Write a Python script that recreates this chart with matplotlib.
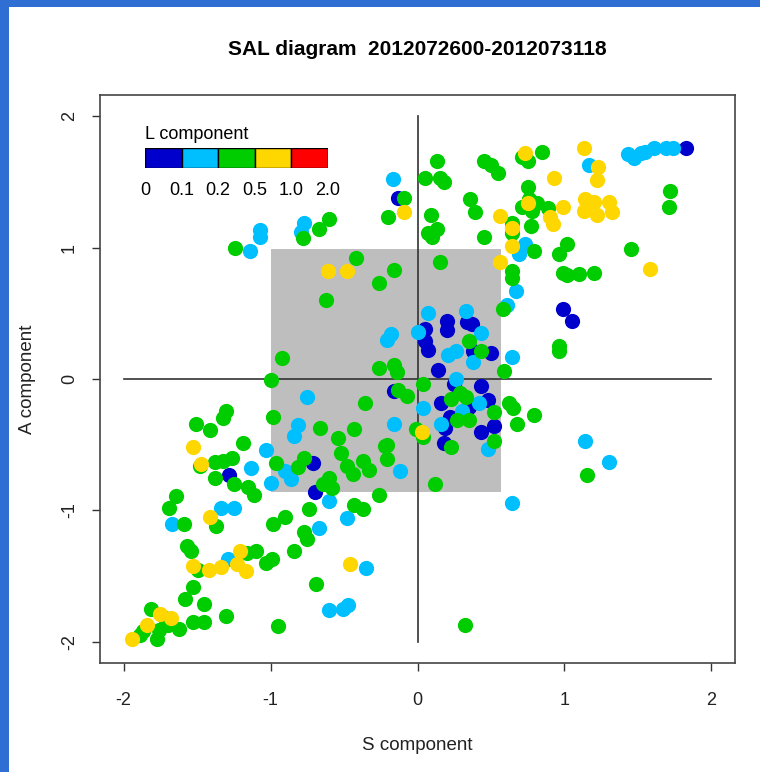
import matplotlib
matplotlib.use("Agg")
import matplotlib.pyplot as plt
from matplotlib.patches import Rectangle

plt.rcParams['font.family'] = ['Liberation Sans', 'DejaVu Sans']

# L component classes and their colours (legend order).
l_bounds = ["0", "0.1", "0.2", "0.5", "1.0", "2.0"]
l_colors = ["#0000CD", "#00BFFF", "#00CD00", "#FFD700", "#FF0000"]

# S and A components, one pair of lists per L class.
s_dark = [1.83, -0.13, 0.99, 1.05, 0.20, 0.20, 0.34, 0.37, 0.05, 0.05, 0.07, 0.38, 0.50, 0.14,
          0.25, 0.43, -0.16, 0.16, 0.35, 0.48, 0.19, 0.43, 0.52, 0.18, -0.71, -0.70, -1.28, 0.22]
a_dark = [1.76, 1.38, 0.53, 0.44, 0.44, 0.37, 0.43, 0.42, 0.38, 0.29, 0.22, 0.21, 0.20, 0.07,
          -0.04, -0.05, -0.09, -0.18, -0.21, -0.16, -0.37, -0.40, -0.36, -0.49, -0.64, -0.86, -0.73, -0.29]

s_light = [1.43, 1.47, 1.52, 1.55, 1.61, 1.69, 1.74, 1.17, -0.17, -1.07, -1.07, -1.14, -0.79, -0.77,
           0.73, 0.69, 0.67, 0.61, 0.64, 0.07, 0.33, 0.00, -0.21, -0.18, 0.43, 0.21, 0.26, 0.38,
           0.26, 0.42, 0.04, 0.30, -0.16, 0.16, 0.48, -0.12, -0.75, -0.81, -0.84, -1.03, -1.13,
           -0.90, -0.86, -1.00, -0.60, -0.48, -0.67, -1.34, -1.25, -1.67, -1.29, -0.35, -0.60,
           -0.51, -0.47, 1.14, 1.30, 0.64]
a_light = [1.71, 1.68, 1.72, 1.73, 1.76, 1.76, 1.76, 1.63, 1.52, 1.13, 1.08, 0.97, 1.12, 1.19,
           1.03, 0.95, 0.67, 0.56, 0.17, 0.50, 0.52, 0.36, 0.30, 0.34, 0.35, 0.18, 0.21, 0.13,
           0.00, -0.18, -0.22, -0.24, -0.34, -0.34, -0.53, -0.70, -0.14, -0.35, -0.43, -0.54, -0.68,
           -0.70, -0.76, -0.79, -0.93, -1.06, -1.13, -0.98, -0.98, -1.10, -1.37, -1.44, -1.76,
           -1.75, -1.72, -0.47, -0.63, -0.94]

s_green = [0.13, 0.05, 0.15, 0.18, -0.09, -0.20, 0.36, 0.39, 0.09, 0.07, 0.13, 0.10, 0.45, 0.45,
           0.50, 0.55, 0.71, 0.75, 0.85, 0.75, 0.71, 0.78, 0.81, 0.76, 0.89, 0.64, 0.64, 0.77,
           1.72, 1.71, 0.79, 1.02, 0.96, 1.45, 0.15, 0.64, 0.64, 0.99, 1.02, 1.10, 1.20, 0.58,
           0.96, 0.96, 0.59, 0.62, 0.65, 0.79, 0.68, 1.15, 0.12, 0.32, 0.52, 0.52, 0.35, 0.43,
           0.04, -0.13, -0.07, 0.23, 0.29, 0.33, 0.27, 0.35, -0.01, 0.04, 0.23, -0.21, -0.21,
           -0.16, -0.26, -0.14, -0.36, -0.43, -0.66, -0.54, -0.22, -0.52, -0.37, -0.77, -0.81,
           -0.96, -0.48, -0.44, -0.33, -0.60, -0.64, -0.58, -1.15, -1.11, -0.26, -0.74, -0.43,
           -0.37, -0.98, -0.90, -0.77, -0.75, -0.92, -1.00, -0.98, -0.26, -0.62, -0.42, -0.16,
           -1.24, -0.78, -0.67, -0.60, -1.30, -1.32, -1.51, -1.41, -1.19, -1.48, -1.38, -1.32,
           -1.26, -1.38, -1.25, -1.64, -1.69, -1.37, -1.59, -1.57, -1.54, -1.10, -1.16, -0.99,
           -1.03, -0.84, -1.49, -1.53, -0.69, -1.58, -1.45, -1.30, -0.95, -1.81, -1.72, -1.70,
           -1.53, -1.45, -1.62, -1.76, -1.87, -1.89, -1.77]
a_green = [1.66, 1.53, 1.53, 1.50, 1.38, 1.23, 1.37, 1.27, 1.25, 1.11, 1.14, 1.08, 1.08, 1.66,
           1.63, 1.57, 1.69, 1.66, 1.73, 1.46, 1.31, 1.28, 1.34, 1.37, 1.30, 1.19, 1.11, 1.16,
           1.43, 1.31, 0.97, 1.03, 0.95, 0.99, 0.89, 0.82, 0.77, 0.81, 0.79, 0.80, 0.81, 0.53,
           0.25, 0.21, 0.06, -0.18, -0.22, -0.27, -0.34, -0.73, -0.80, -1.87, -0.25, -0.47, 0.29, 0.21,
           -0.04, -0.08, -0.13, -0.15, -0.11, -0.14, -0.31, -0.31, -0.38, -0.44, -0.52, -0.50, -0.61,
           0.11, 0.08, 0.05, -0.18, -0.38, -0.37, -0.45, -0.51, -0.56, -0.62, -0.60, -0.67,
           -0.64, -0.66, -0.72, -0.69, -0.75, -0.80, -0.83, -0.82, -0.88, -0.88, -0.99, -0.96,
           -0.99, -1.10, -1.05, -1.16, -1.22, 0.16, -0.01, -0.29, 0.73, 0.60, 0.92, 0.83,
           1.00, 1.07, 1.14, 1.22, -0.24, -0.30, -0.34, -0.39, -0.49, -0.66, -0.63, -0.62,
           -0.60, -0.75, -0.80, -0.89, -0.98, -1.12, -1.10, -1.27, -1.31, -1.31, -1.32, -1.37,
           -1.40, -1.31, -1.45, -1.58, -1.56, -1.67, -1.71, -1.80, -1.88, -1.75, -1.82, -1.87,
           -1.85, -1.85, -1.90, -1.91, -1.92, -1.95, -1.98]

s_yellow = [-0.09, 0.73, 1.13, 1.23, 0.93, 1.22, 0.75, 0.90, 0.92, 0.99, 0.56, 0.64, 1.14, 1.20,
            1.30, 1.13, 1.22, 1.32, 0.64, 0.56, 1.58, -0.61, -0.48, 0.03, -1.53, -1.47, -1.41,
            -1.21, -1.53, -1.42, -1.34, -1.23, -1.17, -0.46, -1.75, -1.68, -1.84, -1.94]
a_yellow = [1.27, 1.72, 1.76, 1.61, 1.53, 1.51, 1.34, 1.23, 1.18, 1.31, 1.24, 1.15, 1.37, 1.35,
            1.35, 1.28, 1.25, 1.27, 1.01, 0.89, 0.84, 0.82, 0.82, -0.40, -0.52, -0.65, -1.05,
            -1.31, -1.42, -1.45, -1.43, -1.41, -1.46, -1.41, -1.79, -1.82, -1.87, -1.98]

# Grey box of the central range.
box_s = (-1.0, 0.57)
box_a = (-0.86, 0.99)

# Figure with the blue screenshot frame along the top and left edges.
fig = plt.figure(figsize=(7.6, 7.72), dpi=100, facecolor="white")
frame_blue = "#2f6fd3"
fig.patches.append(Rectangle((0, 0), 9 / 760, 1, transform=fig.transFigure,
                             facecolor=frame_blue, edgecolor="none"))
fig.patches.append(Rectangle((0, 1 - 7 / 772), 1, 7 / 772, transform=fig.transFigure,
                             facecolor=frame_blue, edgecolor="none"))
ax = fig.add_axes([100 / 760, 109 / 772, 635 / 760, 568 / 772])

# Central box and the cross through the origin.
ax.add_patch(Rectangle((box_s[0], box_a[0]), box_s[1] - box_s[0], box_a[1] - box_a[0],
                       facecolor="#bebebe", edgecolor="none", zorder=1))
ax.plot([-2, 2], [0, 0], color="#333333", lw=1.2, zorder=2)
ax.plot([0, 0], [-2, 2], color="#333333", lw=1.2, zorder=2)

# Points, one call per L class.
for s, a, c in [(s_dark, a_dark, l_colors[0]), (s_light, a_light, l_colors[1]),
                (s_green, a_green, l_colors[2]), (s_yellow, a_yellow, l_colors[3])]:
  ax.scatter(s, a, s=120, color=c, linewidths=0, zorder=3)

ax.set_xlim(-2.16, 2.16)
ax.set_ylim(-2.16, 2.16)
ax.set_xticks([-2, -1, 0, 1, 2])
ax.set_yticks([-2, -1, 0, 1, 2])
ax.set_xticklabels(["-2", "-1", "0", "1", "2"])
ax.set_yticklabels(["-2", "-1", "0", "1", "2"], rotation=90, va="center")
ax.tick_params(direction="out", length=6, width=1, color="#333333", labelsize=13, pad=10,
               labelcolor="#222222")
ax.tick_params(axis="x", pad=15)
for sp in ax.spines.values():
  sp.set_color("#444444")
  sp.set_linewidth(1.2)

ax.set_xlabel("S component", fontsize=13.5, labelpad=20, color="#222222")
ax.set_ylabel("A component", fontsize=13.5, labelpad=18, color="#222222")
ax.set_title("SAL diagram  2012072600-2012073118", fontsize=15, fontweight="bold", pad=29)

# Colour key for the L component.
key = ax.inset_axes([0.071, 0.8715, 0.288, 0.0352])
key.bar(range(len(l_colors)), 1, width=1, color=l_colors, edgecolor="black", linewidth=1)
key.set_xlim(-0.5, len(l_colors) - 0.5)
key.set_ylim(0, 1)
key.set_xticks([i - 0.5 for i in range(len(l_bounds))])
key.set_xticklabels(l_bounds)
key.tick_params(length=0, labelsize=13, pad=10)
key.set_yticks([])
for sp in key.spines.values():
  sp.set_visible(False)
ax.text(0.071, 0.93, "L component", transform=ax.transAxes, fontsize=13, va="center", ha="left")

fig.savefig("out.png", dpi=100)
